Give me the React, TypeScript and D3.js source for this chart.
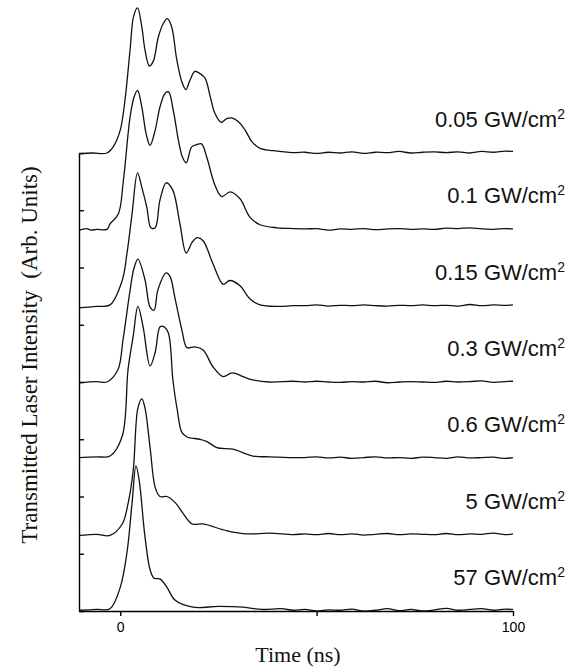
import React, { useEffect, useRef } from 'react'
import * as d3 from 'd3'

// intensity labels, top to bottom
const labels = ['0.05', '0.1', '0.15', '0.3', '0.6', '5', '57']

// shared flat tail times (ns)
const tailT = [47, 50, 53, 56, 59, 62, 65, 68, 71, 74, 77, 80, 83, 86, 89, 92, 95, 98, 100]

// 0.05 GW/cm2
const t1 = [-10.5, -7, -3.4, -1.8, 0, 1.2, 2.5, 3.4, 4.4, 5.5, 6.3, 7.4, 8.4, 9.7, 11, 12, 13.1, 14.4, 15.7, 16.7, 17.8, 19, 20.3, 21.6, 22.9, 24.1, 25.7, 27.1, 28.4, 30.1, 31.8, 33.5, 35.6, 39, 44]
const v1 = [-0.01, 0.0, 0.0, 0.08, 0.3, 0.69, 1.35, 1.79, 1.9, 1.65, 1.35, 1.14, 1.2, 1.52, 1.7, 1.76, 1.65, 1.22, 0.93, 0.83, 0.96, 1.07, 1.04, 0.98, 0.74, 0.52, 0.4, 0.45, 0.46, 0.41, 0.3, 0.15, 0.06, 0.03, 0.005]
const tail1 = [0.01, -0.005, 0.01, 0.0, 0.015, -0.005, 0.01, 0.005, 0.02, 0.0, 0.01, 0.015, 0.005, 0.015, 0.0, 0.02, 0.01, 0.025, 0.02]

// 0.1 GW/cm2
const t2 = [-10.5, -8.5, -7.5, -6, -3.4, -2.6, -0.5, 0.8, 2.5, 3.5, 4.4, 5.5, 6.6, 7.6, 8.9, 10.1, 11.4, 12.3, 13.5, 14.8, 15.8, 16.8, 18.2, 19.5, 20.7, 22, 24.1, 25.8, 28, 30.5, 33, 35.6, 40, 44]
const v2 = [-0.01, 0.01, -0.01, 0.0, 0.0, 0.07, 0.2, 0.64, 1.47, 1.73, 1.82, 1.6, 1.25, 1.1, 1.3, 1.6, 1.78, 1.8, 1.56, 1.17, 0.95, 0.87, 1.08, 1.11, 1.12, 0.95, 0.58, 0.43, 0.49, 0.4, 0.16, 0.06, 0.02, 0.01]
const tail2 = [0.005, 0.01, -0.01, 0.005, 0.0, 0.01, -0.005, 0.005, 0.01, 0.0, 0.005, 0.0, 0.015, 0.01, 0.02, 0.005, 0.0, 0.01, 0.005]

// 0.15 GW/cm2
const t3 = [-10.5, -6, -2.6, 0.5, 1.7, 3.0, 4.4, 5.5, 6.8, 7.8, 8.9, 10.1, 11.7, 13.4, 15.2, 16.8, 18.3, 19.6, 21.1, 23.6, 26.2, 27.9, 30.5, 33, 35.6, 40, 44]
const v3 = [-0.03, -0.01, 0.01, 0.33, 0.68, 1.2, 1.74, 1.55, 1.28, 1.02, 1.02, 1.38, 1.61, 1.51, 1.07, 0.69, 0.83, 0.89, 0.85, 0.55, 0.28, 0.33, 0.26, 0.09, 0.01, -0.01, 0.0]
const tail3 = [0.0, 0.01, -0.005, 0.005, 0.0, 0.01, 0.0, -0.005, 0.005, 0.0, 0.01, 0.0, 0.005, -0.005, 0.015, 0.0, 0.01, 0.005, 0.01]

// 0.3 GW/cm2
const t4 = [-10.5, -6, -3.4, -0.6, 0.7, 2.5, 3.5, 4.5, 6.3, 7.6, 8.6, 9.6, 11.7, 12.7, 13.9, 15.7, 17, 19, 21.1, 23.6, 26.2, 28.5, 31.3, 33.5, 38, 44]
const v4 = [-0.01, 0.005, 0.0, 0.16, 0.55, 1.2, 1.49, 1.61, 1.34, 0.98, 0.94, 1.21, 1.43, 1.38, 1.11, 0.68, 0.45, 0.46, 0.42, 0.2, 0.07, 0.12, 0.07, 0.03, 0.0, 0.01]
const tail4 = [0.0, 0.01, 0.0, -0.005, 0.005, 0.0, 0.01, -0.01, 0.0, 0.005, 0.0, -0.005, 0.01, 0.0, 0.005, 0.015, -0.005, 0.005, 0.01]

// 0.6 GW/cm2
const t5 = [-10.5, -6, -2.6, 0.5, 2.0, 3.3, 4.5, 5.8, 7.6, 8.9, 10.1, 10.9, 12.2, 13.4, 14.5, 15.7, 17, 20.3, 22.1, 24.6, 28.7, 33.8, 38, 44]
const v5 = [0.01, 0.02, 0.03, 0.29, 1.17, 1.6, 1.99, 1.73, 1.21, 1.39, 1.72, 1.73, 1.65, 1.03, 0.64, 0.34, 0.28, 0.25, 0.22, 0.14, 0.12, 0.03, 0.02, 0.01]
const tail5 = [0.01, 0.02, 0.005, 0.015, 0.0, 0.01, 0.02, 0.005, 0.01, 0.0, 0.015, 0.01, 0.0, 0.02, 0.005, 0.01, 0.015, 0.0, 0.01]

// 5 GW/cm2
const t6 = [-10.5, -6, -2.6, 0.5, 2.0, 3.3, 4.5, 5.5, 6.3, 7.6, 8.9, 10.1, 11.9, 14, 16, 18.3, 21.1, 27.2, 32.3, 38, 44]
const v6 = [-0.01, 0.005, -0.01, 0.14, 0.41, 0.84, 1.66, 1.78, 1.66, 1.14, 0.62, 0.5, 0.5, 0.42, 0.28, 0.14, 0.14, 0.05, 0.01, 0.02, 0.0]
const tail6 = [0.01, 0.0, 0.015, 0.0, 0.01, -0.005, 0.005, 0.015, 0.0, 0.01, 0.005, 0.0, 0.015, 0.0, 0.01, 0.005, 0.02, 0.0, 0.01]

// 57 GW/cm2
const t7 = [-10.5, -6, -2.6, 0, 1.7, 3.0, 4.0, 4.8, 6.3, 7.6, 8.6, 10.1, 11.9, 14, 18.5, 25, 31.3, 36, 41, 44]
const v7 = [0.01, 0.02, 0.03, 0.31, 0.76, 1.41, 1.9, 1.72, 0.97, 0.54, 0.43, 0.42, 0.31, 0.14, 0.05, 0.06, 0.05, 0.02, 0.03, 0.01]
const tail7 = [0.02, 0.0, 0.015, 0.01, 0.025, 0.0, 0.01, 0.03, 0.005, 0.02, 0.0, 0.015, 0.035, 0.01, 0.02, 0.03, 0.01, 0.025, 0.02]

const times = [t1, t2, t3, t4, t5, t6, t7]
const values = [v1, v2, v3, v4, v5, v6, v7]
const tails = [tail1, tail2, tail3, tail4, tail5, tail6, tail7]

const yTicks = [0, 0.75, 1.5, 2.25, 3, 3.75, 4.5, 5.25, 6]
const xTicks = [0, 50, 100]

const width = 575
const height = 671

const App = () => {
  const ref = useRef<SVGSVGElement>(null)

  useEffect(() => {
    const svg = d3.select(ref.current)
    svg.selectAll('*').remove()

    const x = d3.scaleLinear().domain([-10.5, 100]).range([79, 513])
    const y = d3.scaleLinear().domain([0, 6]).range([611, 153])

    // axes
    const xAxis = svg
      .append('g')
      .attr('transform', `translate(0, ${y(0)})`)
      .call(
        d3
          .axisBottom(x)
          .tickValues(xTicks)
          .tickSizeInner(5)
          .tickSizeOuter(0)
          .tickPadding(6)
          .tickFormat((d) => (d === 50 ? '' : String(d)))
      )
    xAxis.selectAll('text').attr('font-size', 14).attr('font-family', '"Liberation Sans", Arial, sans-serif').attr('fill', '#000')
    xAxis.selectAll('line, path').attr('stroke', '#000').attr('stroke-width', 1.4)

    const yAxis = svg
      .append('g')
      .attr('transform', `translate(${x(-10.5)}, 0)`)
      .call(d3.axisLeft(y).tickValues(yTicks).tickSizeInner(-5).tickSizeOuter(0).tickFormat(() => ''))
    yAxis.selectAll('line, path').attr('stroke', '#000').attr('stroke-width', 1.4)

    const line = d3
      .line<[number, number]>()
      .x((d) => x(d[0]))
      .y((d) => y(d[1]))
      .curve(d3.curveCatmullRom.alpha(0.5))

    labels.forEach((lab, i) => {
      const offset = 6 - i
      const pts: [number, number][] = times[i].map((t, j) => [t, values[i][j] + offset])
      tailT.forEach((t, j) => pts.push([t, tails[i][j] + offset]))

      svg
        .append('path')
        .attr('d', line(pts))
        .attr('fill', 'none')
        .attr('stroke', '#111')
        .attr('stroke-width', 1.3)

      const txt = svg
        .append('text')
        .attr('x', 565)
        .attr('y', y(offset + 0.34))
        .attr('text-anchor', 'end')
        .attr('font-size', 22)
        .attr('font-family', '"Liberation Sans", Arial, sans-serif')
        .attr('fill', '#111')
      txt.append('tspan').text(`${lab} GW/cm`)
      txt.append('tspan').attr('font-size', 14).attr('dy', -8).text('2')
    })

    // axis titles
    svg
      .append('text')
      .attr('transform', `translate(37, 355) rotate(-90)`)
      .attr('text-anchor', 'middle')
      .attr('font-size', 23)
      .attr('font-family', '"Liberation Serif", "Times New Roman", serif')
      .attr('fill', '#111')
      .text('Transmitted Laser Intensity\u00a0 (Arb. Units)')

    svg
      .append('text')
      .attr('x', 298)
      .attr('y', 662)
      .attr('text-anchor', 'middle')
      .attr('font-size', 22)
      .attr('font-family', '"Liberation Serif", "Times New Roman", serif')
      .attr('fill', '#111')
      .text('Time (ns)')
  }, [])

  return (
    <svg
      ref={ref}
      width={width}
      height={height}
      style={{ position: 'absolute', left: 0, top: 0, background: '#fff' }}
    />
  )
}

export default App
